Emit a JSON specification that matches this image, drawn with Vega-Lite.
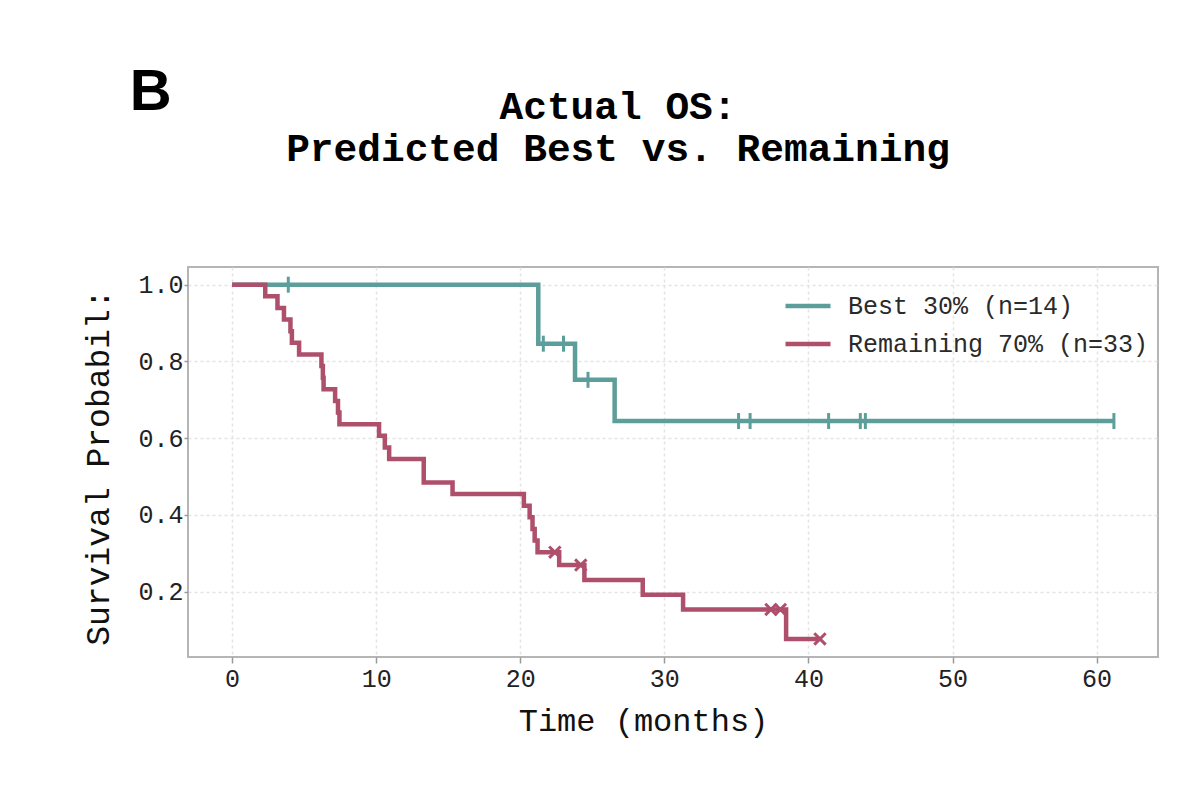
{
  "$schema": "https://vega.github.io/schema/vega-lite/v6.json",
  "width": 970,
  "height": 390,
  "autosize": {"type": "none"},
  "padding": {"left": 188, "top": 267, "right": 42, "bottom": 134},
  "background": "white",
  "title": {
    "text": ["Actual OS:", "Predicted Best vs. Remaining"],
    "font": "Liberation Mono",
    "fontSize": 39.5,
    "fontWeight": "bold",
    "color": "#000000",
    "anchor": "middle",
    "dx": -55,
    "offset": -105,
    "lineHeight": 42
  },
  "config": {
    "view": {"stroke": "#b5b5b5", "strokeWidth": 2},
    "axis": {
      "grid": true,
      "gridDash": [3, 3],
      "gridColor": "#e4e4e4",
      "gridWidth": 1.5,
      "domain": false,
      "ticks": true,
      "tickColor": "#999999",
      "tickSize": 6,
      "tickWidth": 1.5,
      "labelFont": "Liberation Mono",
      "labelFontSize": 25,
      "labelColor": "#222222",
      "labelPadding": 3,
      "titleFont": "Liberation Mono",
      "titleFontSize": 32,
      "titleFontWeight": "normal",
      "titleColor": "#111111"
    }
  },
  "datasets": {
    "curves": [
      {"group": "Best 30% (n=14)", "time": 0, "surv": 1.0},
      {"group": "Best 30% (n=14)", "time": 21.25, "surv": 0.8462},
      {"group": "Best 30% (n=14)", "time": 23.8, "surv": 0.7521},
      {"group": "Best 30% (n=14)", "time": 26.55, "surv": 0.6447},
      {"group": "Best 30% (n=14)", "time": 61.2, "surv": 0.6447},
      {"group": "Remaining 70% (n=33)", "time": 0, "surv": 1.0},
      {"group": "Remaining 70% (n=33)", "time": 2.3, "surv": 0.9697},
      {"group": "Remaining 70% (n=33)", "time": 3.15, "surv": 0.9394},
      {"group": "Remaining 70% (n=33)", "time": 3.6, "surv": 0.9091},
      {"group": "Remaining 70% (n=33)", "time": 4.05, "surv": 0.8788},
      {"group": "Remaining 70% (n=33)", "time": 4.15, "surv": 0.8485},
      {"group": "Remaining 70% (n=33)", "time": 4.65, "surv": 0.8182},
      {"group": "Remaining 70% (n=33)", "time": 6.2, "surv": 0.7879},
      {"group": "Remaining 70% (n=33)", "time": 6.3, "surv": 0.7576},
      {"group": "Remaining 70% (n=33)", "time": 6.35, "surv": 0.7273},
      {"group": "Remaining 70% (n=33)", "time": 7.15, "surv": 0.697},
      {"group": "Remaining 70% (n=33)", "time": 7.35, "surv": 0.6667},
      {"group": "Remaining 70% (n=33)", "time": 7.45, "surv": 0.6364},
      {"group": "Remaining 70% (n=33)", "time": 10.2, "surv": 0.6061},
      {"group": "Remaining 70% (n=33)", "time": 10.6, "surv": 0.5758},
      {"group": "Remaining 70% (n=33)", "time": 10.9, "surv": 0.5455},
      {"group": "Remaining 70% (n=33)", "time": 13.3, "surv": 0.4848},
      {"group": "Remaining 70% (n=33)", "time": 15.3, "surv": 0.4545},
      {"group": "Remaining 70% (n=33)", "time": 20.25, "surv": 0.4242},
      {"group": "Remaining 70% (n=33)", "time": 20.65, "surv": 0.3939},
      {"group": "Remaining 70% (n=33)", "time": 20.85, "surv": 0.3636},
      {"group": "Remaining 70% (n=33)", "time": 21.0, "surv": 0.3333},
      {"group": "Remaining 70% (n=33)", "time": 21.2, "surv": 0.303},
      {"group": "Remaining 70% (n=33)", "time": 22.7, "surv": 0.2694},
      {"group": "Remaining 70% (n=33)", "time": 24.45, "surv": 0.2309},
      {"group": "Remaining 70% (n=33)", "time": 28.5, "surv": 0.1924},
      {"group": "Remaining 70% (n=33)", "time": 31.3, "surv": 0.1539},
      {"group": "Remaining 70% (n=33)", "time": 38.45, "surv": 0.077},
      {"group": "Remaining 70% (n=33)", "time": 40.8, "surv": 0.077}
    ],
    "censors": [
      {"group": "Best 30% (n=14)", "time": 3.9, "surv": 1.0},
      {"group": "Best 30% (n=14)", "time": 21.6, "surv": 0.8462},
      {"group": "Best 30% (n=14)", "time": 23.0, "surv": 0.8462},
      {"group": "Best 30% (n=14)", "time": 24.7, "surv": 0.7521},
      {"group": "Best 30% (n=14)", "time": 35.15, "surv": 0.6447},
      {"group": "Best 30% (n=14)", "time": 35.95, "surv": 0.6447},
      {"group": "Best 30% (n=14)", "time": 41.4, "surv": 0.6447},
      {"group": "Best 30% (n=14)", "time": 43.6, "surv": 0.6447},
      {"group": "Best 30% (n=14)", "time": 43.95, "surv": 0.6447},
      {"group": "Best 30% (n=14)", "time": 61.2, "surv": 0.6447},
      {"group": "Remaining 70% (n=33)", "time": 22.4, "surv": 0.303},
      {"group": "Remaining 70% (n=33)", "time": 24.2, "surv": 0.2694},
      {"group": "Remaining 70% (n=33)", "time": 37.4, "surv": 0.1539},
      {"group": "Remaining 70% (n=33)", "time": 38.05, "surv": 0.1539},
      {"group": "Remaining 70% (n=33)", "time": 40.8, "surv": 0.077}
    ]
  },
  "layer": [
    {
      "data": {"name": "curves"},
      "transform": [{"filter": "datum.group === 'Best 30% (n=14)'"}],
      "mark": {"type": "line", "interpolate": "step-after", "strokeWidth": 4.5},
      "encoding": {
        "x": {
          "field": "time",
          "type": "quantitative",
          "scale": {"domain": [-3.06, 64.26], "nice": false, "zero": false},
          "axis": {"title": "Time (months)", "values": [0, 10, 20, 30, 40, 50, 60], "titlePadding": 14, "titleX": 455}
        },
        "y": {
          "field": "surv",
          "type": "quantitative",
          "scale": {"domain": [0.03, 1.046], "nice": false, "zero": false},
          "axis": {"title": "Survival Probabil:", "values": [0.2, 0.4, 0.6, 0.8, 1.0], "format": ".1f", "titlePadding": 22, "titleFontSize": 33, "titleY": 200, "tickSize": 4, "labelPadding": 1}
        },
        "color": {
          "field": "group",
          "type": "nominal",
          "scale": {"domain": ["Best 30% (n=14)", "Remaining 70% (n=33)"], "range": ["#5c9e99", "#ae4f6c"]},
          "legend": {
            "orient": "none",
            "legendX": 595,
            "legendY": 14,
            "title": null,
            "padding": 0,
            "symbolType": "stroke",
            "symbolSize": 2025,
            "symbolStrokeWidth": 4.5,
            "labelFont": "Liberation Mono",
            "labelFontSize": 25,
            "labelColor": "#2a2a2a",
            "labelOffset": 15,
            "labelLimit": 0,
            "rowPadding": -13
          }
        }
      }
    },
    {
      "data": {"name": "censors"},
      "transform": [{"filter": "datum.group === 'Best 30% (n=14)'"}],
      "mark": {"type": "point", "shape": "M0,-1L0,1", "size": 256, "filled": false, "stroke": "#5c9e99", "strokeWidth": 3, "opacity": 1},
      "encoding": {
        "x": {"field": "time", "type": "quantitative"},
        "y": {"field": "surv", "type": "quantitative"}
      }
    },
    {
      "data": {"name": "curves"},
      "transform": [{"filter": "datum.group === 'Remaining 70% (n=33)'"}],
      "mark": {"type": "line", "interpolate": "step-after", "strokeWidth": 4.5},
      "encoding": {
        "x": {"field": "time", "type": "quantitative"},
        "y": {"field": "surv", "type": "quantitative"},
        "color": {"field": "group", "type": "nominal"}
      }
    },
    {
      "data": {"name": "censors"},
      "transform": [{"filter": "datum.group === 'Remaining 70% (n=33)'"}],
      "mark": {"type": "point", "shape": "M-1,-1L1,1M1,-1L-1,1", "size": 130, "filled": false, "stroke": "#ae4f6c", "strokeWidth": 3, "opacity": 1},
      "encoding": {
        "x": {"field": "time", "type": "quantitative"},
        "y": {"field": "surv", "type": "quantitative"}
      }
    },
    {
      "data": {"values": [{"label": "B"}]},
      "mark": {"type": "text", "font": "Liberation Sans", "fontWeight": "bold", "fontSize": 58, "align": "left", "baseline": "alphabetic", "color": "#000000", "clip": false},
      "encoding": {
        "x": {"datum": -7.1, "type": "quantitative"},
        "y": {"datum": 1.455, "type": "quantitative"},
        "text": {"field": "label", "type": "nominal"}
      }
    }
  ]
}
